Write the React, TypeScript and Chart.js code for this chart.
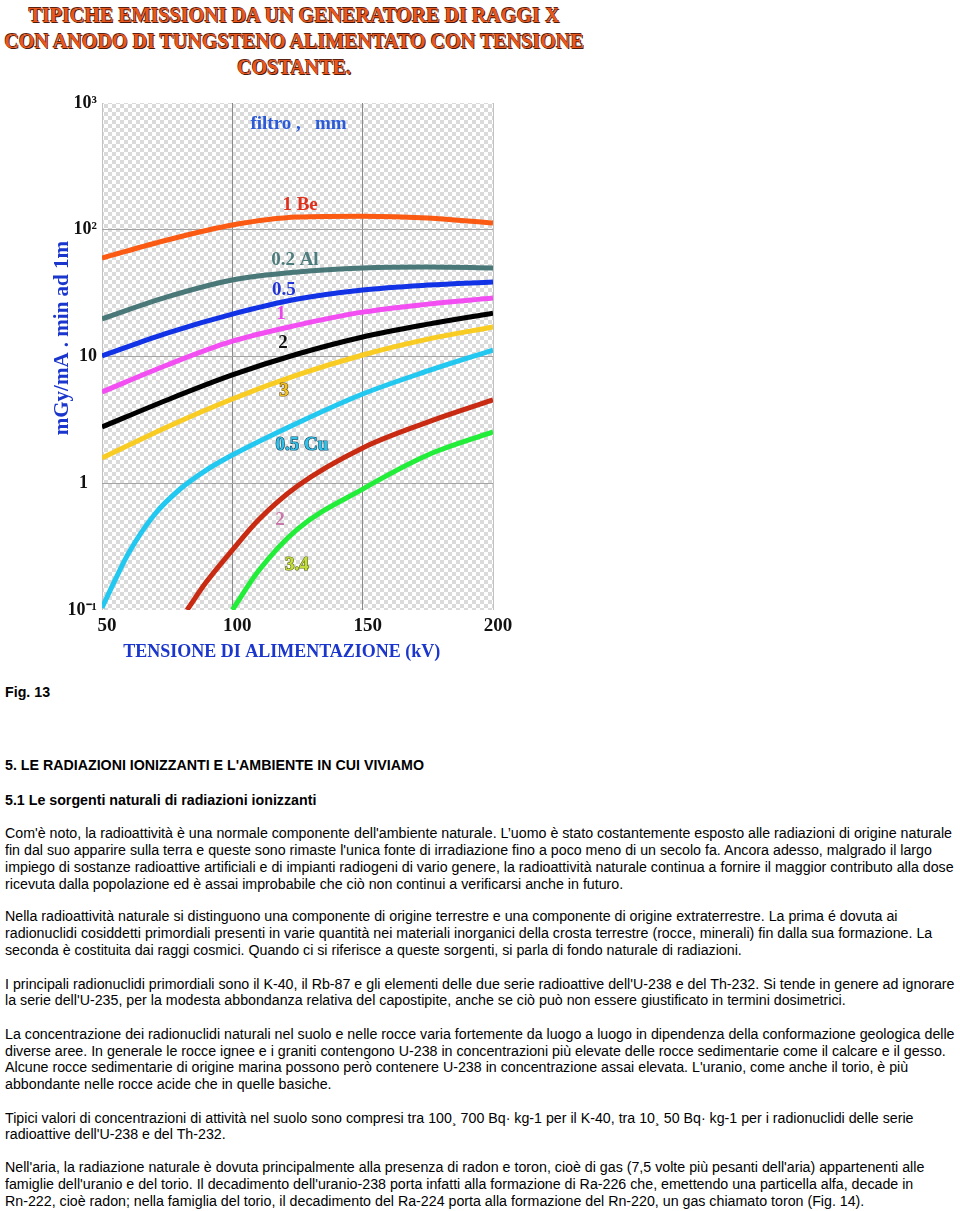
import React, { useEffect, useRef, useMemo } from "react";
import { Chart, registerables } from "chart.js";

Chart.register(...registerables);

// ---------- data ----------
const kvGrid = [50, 75, 100, 125, 150, 175, 200];
const be1 = [59.8, 83, 109, 126, 128, 124, 113];
const al02 = [19.8, 29.5, 40.1, 46.4, 49.9, 50.8, 49.9];
const al05 = [10.1, 15.3, 21.6, 28.4, 33.5, 36.6, 38.7];
const al1 = [5.25, 8.57, 13.2, 17.7, 22.4, 25.9, 29.0];
const al2 = [2.78, 4.54, 7.15, 10.46, 14.26, 18.0, 22.0];
const al3 = [1.58, 2.78, 4.62, 7.15, 10.28, 13.7, 17.1];
const cu05Kv = [50, 55, 60, 70, 80, 90, 100, 125, 150, 175, 200];
const cu05 = [0.104, 0.172, 0.277, 0.562, 0.901, 1.27, 1.67, 2.99, 5.06, 7.69, 11.25];
const cu2Kv = [82.6, 90, 100, 110, 125, 150, 175, 200];
const cu2 = [0.1, 0.166, 0.297, 0.513, 0.951, 1.9, 3.04, 4.54];
const cu34Kv = [100, 110, 125, 150, 175, 200];
const cu34 = [0.1, 0.203, 0.435, 0.9, 1.67, 2.54];

const seriesNames = ["1 Be", "0.2 Al", "0.5 Al", "1 Al", "2 Al", "3 Al", "0.5 Cu", "2 Cu", "3.4 Cu"];

const xTickValues = [50, 100, 150, 200];
const yTickValues = [0.1, 1, 10, 100, 1000];
const yTickLabels = ["10\u207B\u00B9", "1  ", "10", "10\u00B2", "10\u00B3"];

const labelTexts = ["filtro ,   mm", "1 Be", "0.2 Al", "0.5", "1", "2", "3", "0.5 Cu", "2", "3.4"];
const labelKv = [125.4, 126.0, 124.0, 119.8, 118.7, 119.4, 119.8, 126.7, 118.3, 124.8];
const labelVal = [682, 157, 57.7, 33.5, 21.6, 12.8, 5.34, 2.0, 0.513, 0.226];

const titleLines = [
  "TIPICHE EMISSIONI DA UN GENERATORE DI RAGGI X",
  "CON ANODO DI TUNGSTENO ALIMENTATO CON TENSIONE",
  "COSTANTE.",
];

const textLines: { y: number; text: string; bold?: boolean }[] = [
  { y: 692, text: "Fig. 13", bold: true },
  { y: 765, text: "5. LE RADIAZIONI IONIZZANTI E L'AMBIENTE IN CUI VIVIAMO", bold: true },
  { y: 800, text: "5.1 Le sorgenti naturali di radiazioni ionizzanti", bold: true },
  { y: 833, text: "Com'è noto, la radioattività è una normale componente dell'ambiente naturale. L\u2019uomo è stato costantemente esposto alle radiazioni di origine naturale" },
  { y: 850, text: "fin dal suo apparire sulla terra e queste sono rimaste l'unica fonte di irradiazione fino a poco meno di un secolo fa. Ancora adesso, malgrado il largo" },
  { y: 867, text: "impiego di sostanze radioattive artificiali e di impianti radiogeni di vario genere, la radioattività naturale continua a fornire il maggior contributo alla dose" },
  { y: 884, text: "ricevuta dalla popolazione ed è assai improbabile che ciò non continui a verificarsi anche in futuro." },
  { y: 916, text: "Nella radioattività naturale si distinguono una componente di origine terrestre e una componente di origine extraterrestre. La prima é dovuta ai" },
  { y: 933, text: "radionuclidi cosiddetti primordiali presenti in varie quantità nei materiali inorganici della crosta terrestre (rocce, minerali) fin dalla sua formazione. La" },
  { y: 950, text: "seconda è costituita dai raggi cosmici. Quando ci si riferisce a queste sorgenti, si parla di fondo naturale di radiazioni." },
  { y: 984, text: "I principali radionuclidi primordiali sono il K-40, il Rb-87 e gli elementi delle due serie radioattive dell'U-238 e del Th-232. Si tende in genere ad ignorare" },
  { y: 1000, text: "la serie dell'U-235, per la modesta abbondanza relativa del capostipite, anche se ciò può non essere giustificato in termini dosimetrici." },
  { y: 1034, text: "La concentrazione dei radionuclidi naturali nel suolo e nelle rocce varia fortemente da luogo a luogo in dipendenza della conformazione geologica delle" },
  { y: 1051, text: "diverse aree. In generale le rocce ignee e i graniti contengono U-238 in concentrazioni più elevate delle rocce sedimentarie come il calcare e il gesso." },
  { y: 1067, text: "Alcune rocce sedimentarie di origine marina possono però contenere U-238 in concentrazione assai elevata. L'uranio, come anche il torio, è più" },
  { y: 1084, text: "abbondante nelle rocce acide che in quelle basiche." },
  { y: 1118, text: "Tipici valori di concentrazioni di attività nel suolo sono compresi tra 100\u00B8 700 Bq\u00B7 kg-1 per il K-40, tra 10\u00B8 50 Bq\u00B7 kg-1 per i radionuclidi delle serie" },
  { y: 1134, text: "radioattive dell'U-238 e del Th-232." },
  { y: 1167, text: "Nell'aria, la radiazione naturale è dovuta principalmente alla presenza di radon e toron, cioè di gas (7,5 volte più pesanti dell'aria) appartenenti alle" },
  { y: 1184, text: "famiglie dell'uranio e del torio. Il decadimento dell'uranio-238 porta infatti alla formazione di Ra-226 che, emettendo una particella alfa, decade in" },
  { y: 1201, text: "Rn-222, cioè radon; nella famiglia del torio, il decadimento del Ra-224 porta alla formazione del Rn-220, un gas chiamato toron (Fig. 14)." },
];

const SERIF = '"Liberation Serif", "Times New Roman", serif';
const SANS = '"Liberation Sans", Arial, sans-serif';

function measure(text: string, font: string): number {
  const c = document.createElement("canvas").getContext("2d")!;
  c.font = font;
  return c.measureText(text).width;
}

const pts = (xs: number[], ys: number[]) => xs.map((x, i) => ({ x, y: ys[i] }));

const checkerPlugin = {
  id: "checker",
  beforeDraw(chart: any) {
    const { ctx, chartArea: a } = chart;
    const p = document.createElement("canvas");
    p.width = 8;
    p.height = 8;
    const pc = p.getContext("2d")!;
    pc.fillStyle = "#ffffff";
    pc.fillRect(0, 0, 8, 8);
    pc.fillStyle = "#dadada";
    pc.fillRect(0, 0, 4, 4);
    pc.fillRect(4, 4, 4, 4);
    const pat = ctx.createPattern(p, "repeat");
    ctx.save();
    ctx.fillStyle = pat;
    ctx.fillRect(a.left, a.top, a.right - a.left, a.bottom - a.top);
    ctx.restore();
  },
};

const labelFill = ["#2a5ad8", "#e0301c", "#4d7c7c", "#2233d8", "#ee44ee", "#111111", "#f2c428", "#30c0e8", "#c878a8", "#c4dc3c"];
const labelStroke = [null, null, null, null, null, null, "#6a4a08", "#0c4a66", null, "#5a6a10"];

const labelPlugin = {
  id: "curveLabels",
  afterDatasetsDraw(chart: any) {
    const { ctx, scales } = chart;
    ctx.save();
    ctx.font = `bold 19px ${SERIF}`;
    ctx.textAlign = "center";
    ctx.textBaseline = "middle";
    labelTexts.forEach((t, i) => {
      const x = scales.x.getPixelForValue(labelKv[i]);
      const y = scales.y.getPixelForValue(labelVal[i]);
      const s = labelStroke[i];
      if (s) {
        ctx.lineWidth = 1.2;
        ctx.strokeStyle = s;
        ctx.strokeText(t, x, y);
      }
      ctx.fillStyle = labelFill[i];
      ctx.fillText(t, x, y);
    });
    ctx.restore();
  },
};

export default function App() {
  const ref = useRef<HTMLCanvasElement>(null);

  const sBody = useMemo(() => 947 / measure(textLines[3].text, `14px ${SANS}`), []);
  const sTitle = useMemo(() => 532 / measure(titleLines[0], `bold 22px ${SERIF}`), []);

  useEffect(() => {
    const mk = (label: string, data: any[], color: string) => ({
      label,
      data,
      borderColor: color,
      backgroundColor: color,
      borderWidth: 5,
      pointRadius: 0,
      fill: false,
      cubicInterpolationMode: "monotone" as const,
    });
    const chart = new Chart(ref.current!, {
      type: "line",
      data: {
        datasets: [
          mk(seriesNames[0], pts(kvGrid, be1), "#fa5a12"),
          mk(seriesNames[1], pts(kvGrid, al02), "#4a7878"),
          mk(seriesNames[2], pts(kvGrid, al05), "#1232e6"),
          mk(seriesNames[3], pts(kvGrid, al1), "#f24ef2"),
          mk(seriesNames[4], pts(kvGrid, al2), "#000000"),
          mk(seriesNames[5], pts(kvGrid, al3), "#f8cc22"),
          mk(seriesNames[6], pts(cu05Kv, cu05), "#22c8f0"),
          mk(seriesNames[7], pts(cu2Kv, cu2), "#c82a12"),
          mk(seriesNames[8], pts(cu34Kv, cu34), "#22ee3a"),
        ],
      },
      options: {
        responsive: false,
        animation: false,
        devicePixelRatio: 1,
        layout: { padding: { top: 23, right: 97, left: 0, bottom: 0 } },
        plugins: {
          legend: { display: false },
          tooltip: { enabled: false },
          title: { display: false },
        },
        scales: {
          x: {
            type: "linear",
            min: 50,
            max: 200,
            afterBuildTicks: (s: any) => {
              s.ticks = xTickValues.map((v) => ({ value: v }));
            },
            afterFit: (s: any) => {
              s.height = 62;
            },
            ticks: {
              color: "#111",
              font: { family: SERIF, size: 19, weight: "bold" },
              padding: 5,
              labelOffset: 5,
              maxRotation: 0,
            },
            grid: {
              drawTicks: false,
              lineWidth: 1,
              color: (c: any) => {
                const v = c.tick && c.tick.value;
                if (v === 100 || v === 150) return "#8a8a8a";
                return "#c2c2c2";
              },
            },
            border: { display: false },
            title: {
              display: true,
              text: "TENSIONE DI ALIMENTAZIONE (kV)       ",
              color: "#1a36cc",
              font: { family: SERIF, size: 18, weight: "bold" },
              padding: { top: 0, bottom: 9 },
            },
          },
          y: {
            type: "logarithmic",
            min: 0.1,
            max: 1000,
            afterBuildTicks: (s: any) => {
              s.ticks = yTickValues.map((v) => ({ value: v }));
            },
            afterFit: (s: any) => {
              s.width = 102;
            },
            ticks: {
              color: "#111",
              font: { family: SERIF, size: 18, weight: "bold" },
              padding: 5,
              callback: (v: any) => {
                const i = yTickValues.indexOf(Number(v));
                return i >= 0 ? yTickLabels[i] : "";
              },
            },
            grid: {
              drawTicks: false,
              lineWidth: 1,
              color: (c: any) => {
                const v = c.tick && c.tick.value;
                if (v === 1 || v === 10 || v === 100) return "#a4a4a4";
                return "rgba(0,0,0,0)";
              },
            },
            border: { display: false },
            title: {
              display: true,
              text: "       mGy/mA . min ad 1m",
              color: "#1a36cc",
              font: { family: SERIF, size: 21, weight: "bold" },
              padding: { top: 50, bottom: 0 },
            },
          },
        },
      },
      plugins: [checkerPlugin, labelPlugin],
    } as any);
    return () => chart.destroy();
  }, []);

  return (
    <div style={{ position: "absolute", left: 0, top: 0, width: 960, height: 1211, background: "#fff", overflow: "hidden" }}>
      <div
        style={{
          position: "absolute",
          left: -706,
          top: 2,
          width: 2000,
          textAlign: "center",
          fontFamily: SERIF,
          fontWeight: "bold",
          fontSize: 22,
          lineHeight: "26px",
          color: "#e8581e",
          textShadow: "1px 1px 0 #4a1808, -0.6px -0.6px 0 #5a2010",
          transform: `scaleX(${sTitle})`,
          transformOrigin: "1000px 0",
          whiteSpace: "nowrap",
        }}
      >
        {titleLines.map((t, i) => (
          <div key={i}>{t}</div>
        ))}
      </div>
      <canvas ref={ref} width={590} height={592} style={{ position: "absolute", left: 0, top: 80, width: 590, height: 592 }} />
      {textLines.map((l, i) => (
        <div
          key={i}
          style={{
            position: "absolute",
            left: 5,
            top: l.y - 8,
            lineHeight: "16px",
            fontFamily: SANS,
            fontSize: 14,
            fontWeight: l.bold ? "bold" : "normal",
            color: "#000",
            whiteSpace: "nowrap",
            transform: `scaleX(${sBody})`,
            transformOrigin: "0 50%",
          }}
        >
          {l.text}
        </div>
      ))}
    </div>
  );
}
